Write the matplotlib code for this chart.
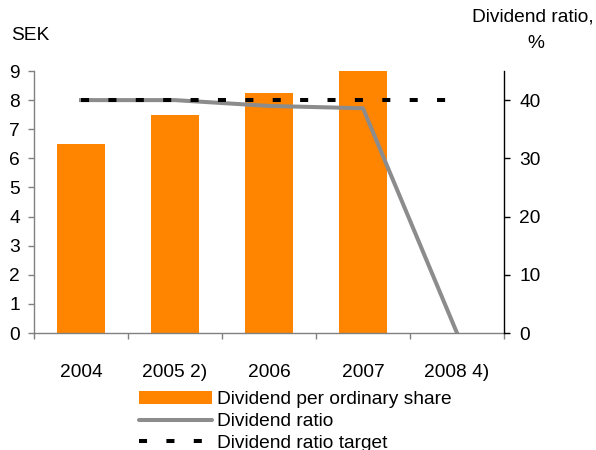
import matplotlib
matplotlib.use("Agg")
import matplotlib.pyplot as plt
from matplotlib.patches import Patch
from matplotlib.lines import Line2D

plt.rcParams['font.family'] = ['Liberation Sans', 'DejaVu Sans']

categories = ["2004", "2005 2)", "2006", "2007", "2008 4)"]
dividend_sek = [6.5, 7.5, 8.25, 9.0, 0.0]
dividend_ratio = [40, 40, 39.0, 38.6, 0]
ratio_target = [40, 40, 40, 40, 40]
left_ticks = list(range(0, 10))
right_ticks = [0, 10, 20, 30, 40]

FS = 13.8
W, H = 596, 450
fig = plt.figure(figsize=(W / 100, H / 100), dpi=100)
L, R, T, B = 34, 504, 71, 333
ax = fig.add_axes([L / W, 1 - B / H, (R - L) / W, (B - T) / H])

GRAY = '#808080'
ORANGE = '#ff8400'
LW = 2.9
DASH = (0, (2.0, 4.8))

x = list(range(len(categories)))
ax.bar(x, dividend_sek, width=0.51, color=ORANGE, zorder=2)
ax.set_xlim(-0.5, len(categories) - 0.5)
ax.set_ylim(0, 9)
ax.set_yticks(left_ticks)
ax.set_xticks(x)
ax.set_xticklabels(categories)
ax.set_xticks([i - 0.5 for i in range(len(categories) + 1)], minor=True)
ax.tick_params(axis='x', which='major', length=0, pad=22.5, labelsize=FS)
ax.tick_params(axis='x', which='minor', length=4, width=1, color=GRAY, direction='out')
ax.tick_params(axis='y', length=4.3, width=1, color=GRAY, direction='out', pad=6, labelsize=FS)
for s in ['top', 'right']:
    ax.spines[s].set_visible(False)
for s in ['left', 'bottom']:
    ax.spines[s].set_color(GRAY)
    ax.spines[s].set_linewidth(1)

ax2 = ax.twinx()
ax2.set_ylim(0, 45)
ax2.set_yticks(right_ticks)
ax2.tick_params(axis='y', length=4, width=1, color='black', direction='out', pad=7, labelsize=FS)
for s in ['top', 'left', 'bottom']:
    ax2.spines[s].set_visible(False)
ax2.spines['right'].set_color('black')
ax2.spines['right'].set_linewidth(1)

ax2.plot(x, dividend_ratio, color='#8c8c8c', lw=LW, zorder=3)
ax2.plot(x, ratio_target, color='black', lw=LW, linestyle=DASH, dash_capstyle='butt', zorder=4)

fig.text(11 / W, 1 - 35 / H, "SEK", fontsize=FS, ha='left', va='center')
fig.text(594 / W, 1 - 17.5 / H, "Dividend ratio,", fontsize=FS, ha='right', va='center')
fig.text(536 / W, 1 - 43 / H, "%", fontsize=FS, ha='center', va='center')

handles = [
    Patch(facecolor=ORANGE, edgecolor='none'),
    Line2D([], [], color='#8c8c8c', lw=LW, solid_capstyle='round'),
    Line2D([], [], color='black', lw=LW, linestyle=DASH, dash_capstyle='butt'),
]
labels = ["Dividend per ordinary share", "Dividend ratio", "Dividend ratio target"]
fig.legend(handles, labels, loc='upper left', bbox_to_anchor=(139 / W, 1 - 391 / H),
           frameon=False, fontsize=FS, borderpad=0, borderaxespad=0,
           handlelength=3.8, handletextpad=0.27, labelspacing=0.23, handleheight=0.7)

fig.savefig("out.png", dpi=100)
